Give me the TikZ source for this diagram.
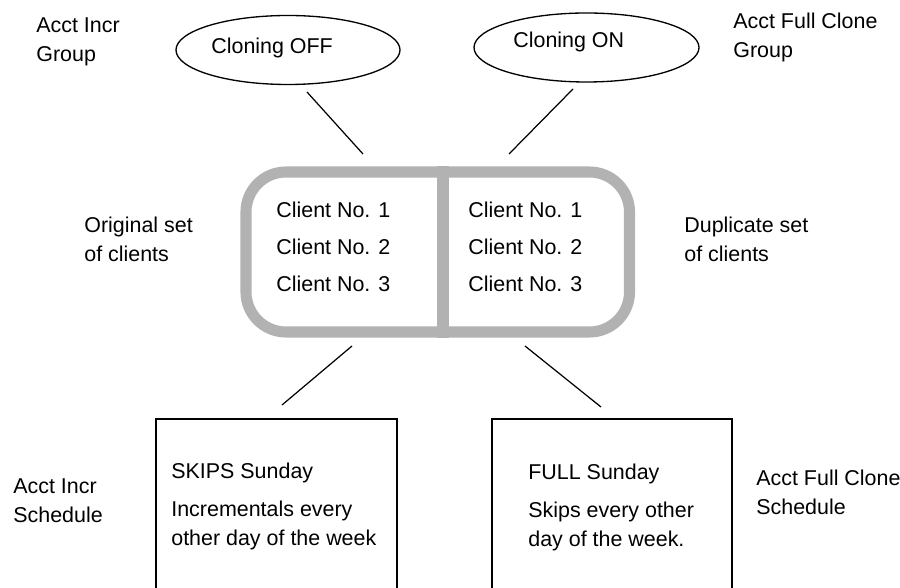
\documentclass[tikz,border=0pt]{standalone}
\usepackage{fontspec}
\setmainfont{Liberation Sans}
\usepackage{tikz}
\usetikzlibrary{shapes.geometric}

\begin{document}
\begin{tikzpicture}[
  font=\fontsize{12.2}{16.6}\selectfont,
  grp/.style={draw, ellipse, line width=0.75pt, inner sep=0pt},
  lbl/.style={anchor=base west, align=left, inner sep=0pt},
  sched/.style={draw, line width=1pt, anchor=north, minimum height=5cm, inner sep=0pt},
  wire/.style={line width=0.7pt},
  wall/.style={draw=black!30, line width=6.3pt}
]
\clip (0,0) rectangle (18,-11.76);
% Groups
\node[grp, minimum width=4.48cm, minimum height=1.38cm] (offell) at (5.76,-1.00) {};
\node[grp, minimum width=4.50cm, minimum height=1.38cm] (onell) at (11.73,-0.95) {};
\node[lbl] (offtxt) at (4.22,-1.08) {Cloning OFF};
\node[lbl] (ontxt) at (10.26,-0.96) {Cloning ON};
\node[lbl] (grpincr) at (0.72,-1.24) {Acct Incr\\Group};
\node[lbl] (grpfull) at (14.66,-1.16) {Acct Full Clone\\Group};
% Clients
\node[wall, rounded corners=0.8cm, minimum width=7.67cm, minimum height=3.2cm] (clients) at (8.755,-5.04) {};
\draw[wall] ([xshift=1.05mm]clients.north) -- ([xshift=1.05mm]clients.south);
\node[lbl, font=\fontsize{12.2}{21.3}\selectfont] (orig) at (5.52,-5.84) {Client No. 1\\Client No. 2\\Client No. 3};
\node[lbl, font=\fontsize{12.2}{21.3}\selectfont] (dup) at (9.36,-5.84) {Client No. 1\\Client No. 2\\Client No. 3};
\node[lbl] (origset) at (1.68,-5.24) {Original set\\of clients};
\node[lbl] (dupset) at (13.68,-5.24) {Duplicate set\\of clients};
% Schedules
\node[sched, minimum width=4.82cm] (incrbox) at (5.53,-8.36) {};
\node[sched, minimum width=4.80cm] (fullbox) at (12.24,-8.36) {};
\node[lbl] (skips) at (3.42,-10.92) {SKIPS Sunday\\[5.4pt]Incrementals every\\other day of the week};
\node[lbl] (full) at (10.56,-10.94) {FULL Sunday\\[5.4pt]Skips every other\\day of the week.};
\node[lbl] (schincr) at (0.26,-10.46) {Acct Incr\\Schedule};
\node[lbl] (schfull) at (15.12,-10.30) {Acct Full Clone\\Schedule};
% Links
\coordinate (a1) at (6.14,-1.84); \coordinate (a2) at (7.26,-3.08);
\coordinate (b1) at (11.46,-1.78); \coordinate (b2) at (10.18,-3.08);
\coordinate (c1) at (7.04,-6.92); \coordinate (c2) at (5.64,-8.10);
\coordinate (d1) at (10.50,-6.92); \coordinate (d2) at (12.02,-8.14);
\draw[wire] (a1) -- (a2);
\draw[wire] (b1) -- (b2);
\draw[wire] (c1) -- (c2);
\draw[wire] (d1) -- (d2);
\end{tikzpicture}
\end{document}
